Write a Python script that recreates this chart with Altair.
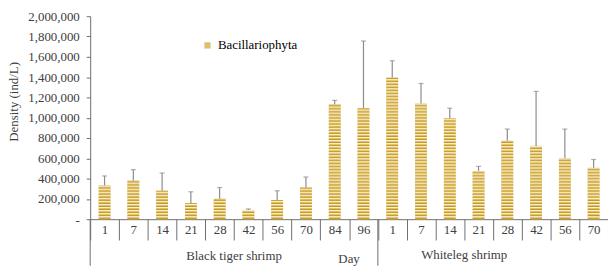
import altair as alt
import pandas as pd

# ---- data ----
bt_days = ["1", "7", "14", "21", "28", "42", "56", "70", "84", "96"]
wl_days = ["1", "7", "14", "21", "28", "42", "56", "70"]
bt_mean = [332000, 381000, 280000, 157000, 202000, 91000, 189000, 312000, 1132000, 1093000]
bt_sd = [94000, 107000, 175000, 113000, 110000, 10000, 91000, 104000, 39000, 663000]
wl_mean = [1395000, 1141000, 995000, 475000, 774000, 722000, 602000, 507000]
wl_sd = [166000, 196000, 98000, 45000, 114000, 537000, 286000, 81000]
series_name = "Bacillariophyta"
y_ticks = [0, 200000, 400000, 600000, 800000, 1000000, 1200000, 1400000, 1600000, 1800000, 2000000]

keys = [f"BT|{d}" for d in bt_days] + [f"WL|{d}" for d in wl_days]
means = bt_mean + wl_mean
sds = bt_sd + wl_sd

df = pd.DataFrame({
    "key": keys,
    "mean": means,
    "top": [m + s for m, s in zip(means, sds)],
    "series": series_name,
})

# stripe pattern rows derived from the bar values
P = 30000
dark_rows, white_rows = [], []
for k, m in zip(keys, means):
    s = 0
    while s < m:
        dark_rows.append({"key": k, "y0": s, "y1": min(s + 10000, m)})
        if s + 20000 < m:
            white_rows.append({"key": k, "y0": s + 20000, "y1": min(s + 30000, m)})
        s += P
dark_df = pd.DataFrame(dark_rows)
white_df = pd.DataFrame(white_rows)

FONT = "Liberation Serif"
AXIS_COL = "#6e6e6e"
TXT_COL = "#404040"
BW = alt.RelativeBandSize(0.41)

xscale = alt.Scale(domain=keys, paddingInner=0, paddingOuter=0)
x_axis = alt.Axis(
    title=None, labelExpr="split(datum.label, '|')[1]", tickBand="extent",
    tickSize=21, labelPadding=-17, labelAngle=0, labelFont=FONT, labelFontSize=13,
    labelColor=TXT_COL, domainColor=AXIS_COL, tickColor=AXIS_COL, grid=False,
)
y_axis = alt.Axis(
    title="Density (ind/L)", values=y_ticks,
    labelExpr="datum.value == 0 ? '-' : format(datum.value, ',')",
    labelFont=FONT, labelFontSize=13, labelColor=TXT_COL, tickSize=4,
    labelPadding=7, labelOverlap=False, labelFlush=False,
    domainColor=AXIS_COL, tickColor=AXIS_COL, grid=False,
    titleFont=FONT, titleFontSize=13, titleFontWeight="normal", titleColor=TXT_COL,
    titleX=-77, titleY=86, titleAngle=270, titleAlign="center", titleBaseline="middle",
)
yscale = alt.Scale(domain=[0, 2000000], nice=False)


def X(**kw):
    return alt.X("key:N", scale=xscale, axis=x_axis, **kw)


def Y(field):
    return alt.Y(field, scale=yscale, axis=y_axis)


base = alt.Chart(df).mark_bar(width=BW).encode(
    x=X(),
    y=Y("mean:Q"),
    color=alt.Color(
        "series:N",
        scale=alt.Scale(domain=[series_name], range=["#DDBF6E"]),
        legend=alt.Legend(
            title=None, orient="none", legendX=112, legendY=23, symbolType="square",
            symbolSize=40, labelFont=FONT, labelFontSize=13, labelColor="#000000",
            symbolStrokeWidth=0,
        ),
    ),
)

dark = alt.Chart(dark_df).mark_bar(width=BW, color="#C99A12").encode(
    x=X(), y=Y("y0:Q"), y2="y1:Q"
)
white = alt.Chart(white_df).mark_bar(width=BW, color="#F7EFD8").encode(
    x=X(), y=Y("y0:Q"), y2="y1:Q"
)

err = alt.Chart(df).mark_rule(color="#8c8c8c", strokeWidth=1.2).encode(
    x=X(), y=Y("mean:Q"), y2="top:Q"
)
cap = alt.Chart(df).mark_tick(color="#8c8c8c", size=5, thickness=1.2).encode(
    x=X(), y=Y("top:Q")
)

sep = alt.Chart(pd.DataFrame({"key": ["WL|1"]})).mark_rule(color=AXIS_COL).encode(
    x=X(bandPosition=0), y=alt.value(205), y2=alt.value(252)
)
yext = alt.Chart(pd.DataFrame({"key": ["BT|1"]})).mark_rule(color=AXIS_COL).encode(
    x=X(bandPosition=0), y=alt.value(205), y2=alt.value(252)
)


def group_label(key, text, py):
    return alt.Chart(pd.DataFrame({"key": [key], "t": [text]})).mark_text(
        font=FONT, fontSize=13, color=TXT_COL, baseline="middle", align="center"
    ).encode(x=X(bandPosition=0), y=alt.value(py), text="t:N")


labels = (
    group_label("BT|42", "Black tiger shrimp", 242)
    + group_label("WL|21", "Whiteleg shrimp", 241)
    + group_label("BT|96", "Day", 245)
)

chart = alt.layer(base, dark, white, err, cap, sep, yext, labels).properties(
    width=523, height=205,
    autosize=alt.AutoSizeParams(type="none"),
    padding={"left": 83, "top": 7, "right": 0, "bottom": 47},
).configure_view(stroke=None)

chart.save("out.html", embed_options={"renderer": "svg", "actions": False})
